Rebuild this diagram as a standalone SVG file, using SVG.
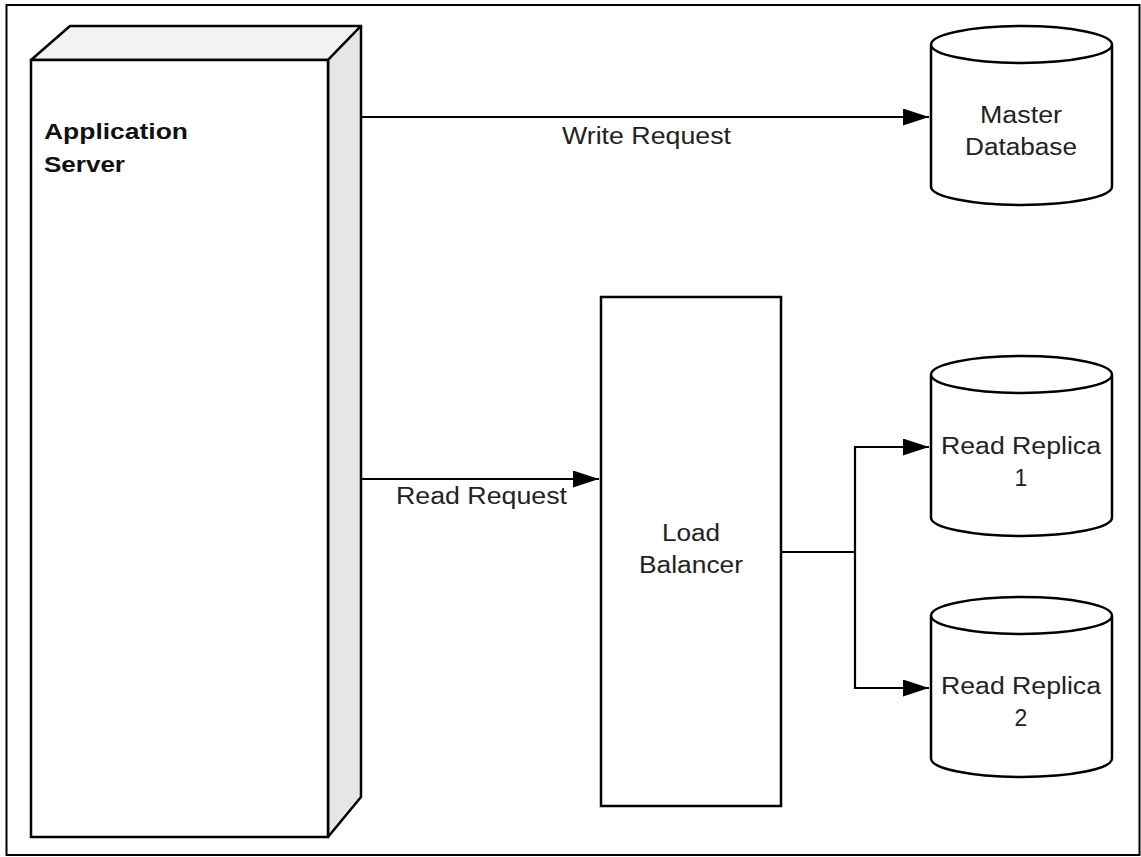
<svg xmlns="http://www.w3.org/2000/svg" width="1141" height="857" viewBox="0 0 1141 857">
  <style>
    .shape { fill: #ffffff; stroke: #000000; stroke-width: 2.5; stroke-linejoin: miter; }
    .conn { fill: none; stroke: #000000; stroke-width: 2.2; }
    .lbl { font-family: "Liberation Sans", Arial, sans-serif; font-size: 23px; fill: #222222; text-anchor: middle; }
    .bold { font-family: "Liberation Sans", Arial, sans-serif; font-size: 22.5px; font-weight: bold; fill: #111111; }
  </style>
  <defs>
    <marker id="arrow" markerUnits="userSpaceOnUse" markerWidth="27" markerHeight="18" refX="26" refY="8.5" orient="auto">
      <path d="M0,0 L26,8.5 L0,17 Z" fill="#000000"/>
    </marker>
  </defs>
  <rect x="0" y="0" width="1141" height="857" fill="#ffffff"/>
  <rect id="frame" x="6.5" y="5" width="1133" height="850" fill="none" stroke="#000000" stroke-width="2"/>

  <g id="app-server">
    <polygon points="31,60 70,26 361,26 328,60" fill="#f2f2f2" stroke="#000" stroke-width="2.5" stroke-linejoin="round"/>
    <polygon points="328,60 361,26 361,797 328,837" fill="#e6e6e6" stroke="#000" stroke-width="2.5" stroke-linejoin="round"/>
    <rect class="shape" x="31" y="60" width="297" height="777"/>
    <text class="bold" x="44" y="139" textLength="144" lengthAdjust="spacingAndGlyphs">Application</text>
    <text class="bold" x="44" y="172" textLength="81" lengthAdjust="spacingAndGlyphs">Server</text>
  </g>

  <g id="master-db">
    <path class="shape" d="M931,44.5 v142 a90.5,18.5 0 0 0 181,0 v-142 a90.5,18.5 0 0 0 -181,0 a90.5,18.5 0 0 0 181,0"/>
    <text class="lbl" x="1021" y="123" textLength="82" lengthAdjust="spacingAndGlyphs">Master</text>
    <text class="lbl" x="1021" y="155" textLength="112" lengthAdjust="spacingAndGlyphs">Database</text>
  </g>

  <g id="load-balancer">
    <rect class="shape" x="601" y="297" width="180" height="509"/>
    <text class="lbl" x="691" y="541" textLength="58" lengthAdjust="spacingAndGlyphs">Load</text>
    <text class="lbl" x="691" y="573" textLength="104" lengthAdjust="spacingAndGlyphs">Balancer</text>
  </g>

  <g id="replica-1">
    <path class="shape" d="M931,374.5 v143 a90.5,18.5 0 0 0 181,0 v-143 a90.5,18.5 0 0 0 -181,0 a90.5,18.5 0 0 0 181,0"/>
    <text class="lbl" x="1021" y="454" textLength="160" lengthAdjust="spacingAndGlyphs">Read Replica</text>
    <text class="lbl" x="1021" y="486">1</text>
  </g>

  <g id="replica-2">
    <path class="shape" d="M931,615.5 v143 a90.5,18.5 0 0 0 181,0 v-143 a90.5,18.5 0 0 0 -181,0 a90.5,18.5 0 0 0 181,0"/>
    <text class="lbl" x="1021" y="694" textLength="160" lengthAdjust="spacingAndGlyphs">Read Replica</text>
    <text class="lbl" x="1021" y="726">2</text>
  </g>

  <g id="connectors">
    <line class="conn" x1="361" y1="117" x2="929" y2="117" marker-end="url(#arrow)"/>
    <text class="lbl" x="646.5" y="144" textLength="169" lengthAdjust="spacingAndGlyphs">Write Request</text>
    <line class="conn" x1="361" y1="479" x2="599" y2="479" marker-end="url(#arrow)"/>
    <text class="lbl" x="481.5" y="504" textLength="171" lengthAdjust="spacingAndGlyphs">Read Request</text>
    <polyline class="conn" points="781,552 855,552"/>
    <polyline class="conn" points="855,552 855,447 929,447" marker-end="url(#arrow)"/>
    <polyline class="conn" points="855,552 855,688 929,688" marker-end="url(#arrow)"/>
  </g>
</svg>
